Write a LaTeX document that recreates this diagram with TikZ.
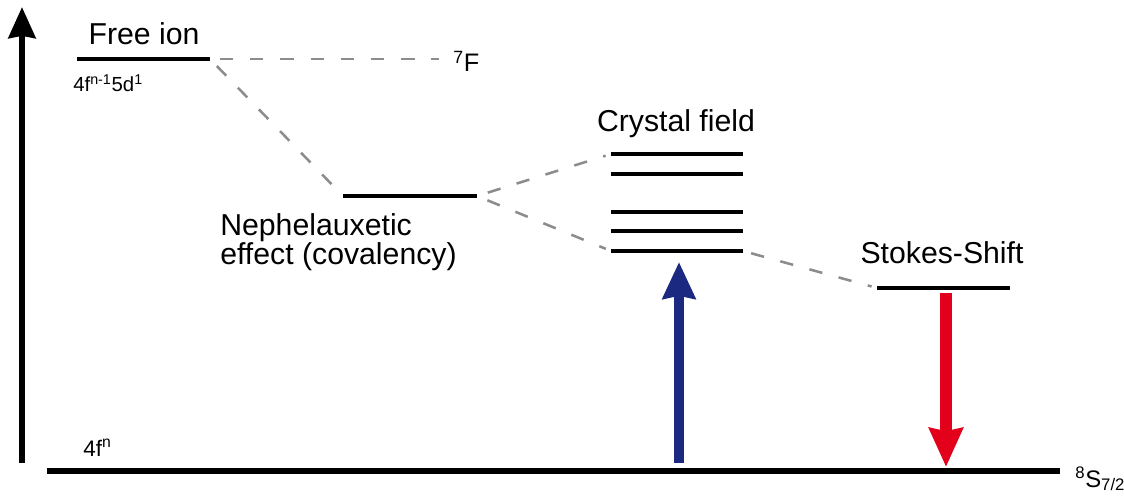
\documentclass[tikz,border=0pt]{standalone}
\usepackage{fontspec}
\setmainfont{Liberation Sans}
\usetikzlibrary{arrows.meta}

\definecolor{excblue}{RGB}{27,42,128}
\definecolor{emired}{RGB}{227,0,27}
\definecolor{dashgray}{RGB}{140,140,140}

\tikzset{
    level/.style={line width=2.9pt},
    link/.style={dashgray, line width=1.8pt, dash pattern=on 9.5pt off 12pt, shorten <=6pt, shorten >=4pt},
    lbl/.style={font=\fontsize{21.5}{21}\selectfont, inner sep=0pt},
    smalllbl/.style={font=\fontsize{14.5}{16}\selectfont, inner sep=0pt}
}

\begin{document}
\begin{tikzpicture}[x=0.025cm, y=-0.025cm]
    \useasboundingbox (0,0) rectangle (1124,498);

    % level end points
    \coordinate (fiL) at (77,59);   \coordinate (fiR) at (210,59);
    \coordinate (fF) at (445,59);
    \coordinate (nL) at (343,196);  \coordinate (nR) at (477,196);
    \coordinate (c1L) at (611,154); \coordinate (c1R) at (743,154);
    \coordinate (c2L) at (611,174); \coordinate (c2R) at (743,174);
    \coordinate (c3L) at (611,212); \coordinate (c3R) at (743,212);
    \coordinate (c4L) at (611,231); \coordinate (c4R) at (743,231);
    \coordinate (c5L) at (611,251); \coordinate (c5R) at (743,251);
    \coordinate (sL) at (877,288);  \coordinate (sR) at (1010,288);
    \coordinate (gL) at (47,471);   \coordinate (gR) at (1060,471);

    % energy axis
    \coordinate (axbot) at (22,463);
    \coordinate (axtop) at (22,7);
    \draw [line width=4.6pt, -{Stealth[length=22pt, width=19pt, inset=1.5pt]}] (axbot) -- (axtop);

    % levels
    \draw [level] (fiL) -- (fiR);
    \draw [level] (nL) -- (nR);
    \foreach \i in {1,...,5}
        \draw [level] (c\i L) -- (c\i R);
    \draw [level] (sL) -- (sR);
    \draw [line width=3.6pt] (gL) -- (gR);

    % dashed connections
    \draw [link, shorten <=7pt] (fiR) -- (fF);
    \draw [link, shorten <=7pt] (fiR) -- (nL);
    \draw [link, shorten <=8pt] (nR) -- (c1L);
    \draw [link, shorten <=8pt] (nR) -- (c5L);
    \draw [link] (c5R) -- (sL);

    % absorption and emission
    \coordinate (absbot) at (679,463); \coordinate (abstop) at (679,262);
    \coordinate (emtop) at (946,293);  \coordinate (embot) at (946,467);
    \draw [excblue, line width=7.8pt, -{Stealth[length=26pt, width=23pt, inset=2pt]}] (absbot) -- (abstop);
    \draw [emired, line width=8.5pt, -{Stealth[length=27.5pt, width=23.5pt, inset=2pt]}] (emtop) -- (embot);

    % labels
    \node [lbl, anchor=base] (freeion) at (144,45) {Free ion};
    \node [smalllbl, anchor=base west] (config) at (73,92) {4f\textsuperscript{n-1}5d\textsuperscript{1}};
    \node [smalllbl, font=\fontsize{18}{20}\selectfont, anchor=base west] (sevenF) at (453,72) {\textsuperscript{7}F};
    \node [lbl, anchor=north west, align=left] (neph) at (220,213) {Nephelauxetic\\effect (covalency)};
    \node [lbl, anchor=base] (crystal) at (676,132) {Crystal field};
    \node [lbl, anchor=base] (stokes) at (942,264) {Stokes-Shift};
    \node [smalllbl, font=\fontsize{16}{18}\selectfont, anchor=base west] (ground) at (83,456) {4f\textsuperscript{n}};
    \node [smalllbl, font=\fontsize{17}{19}\selectfont, anchor=base west] (eightS) at (1075,487) {\textsuperscript{8}S\textsubscript{7/2}};
\end{tikzpicture}
\end{document}
